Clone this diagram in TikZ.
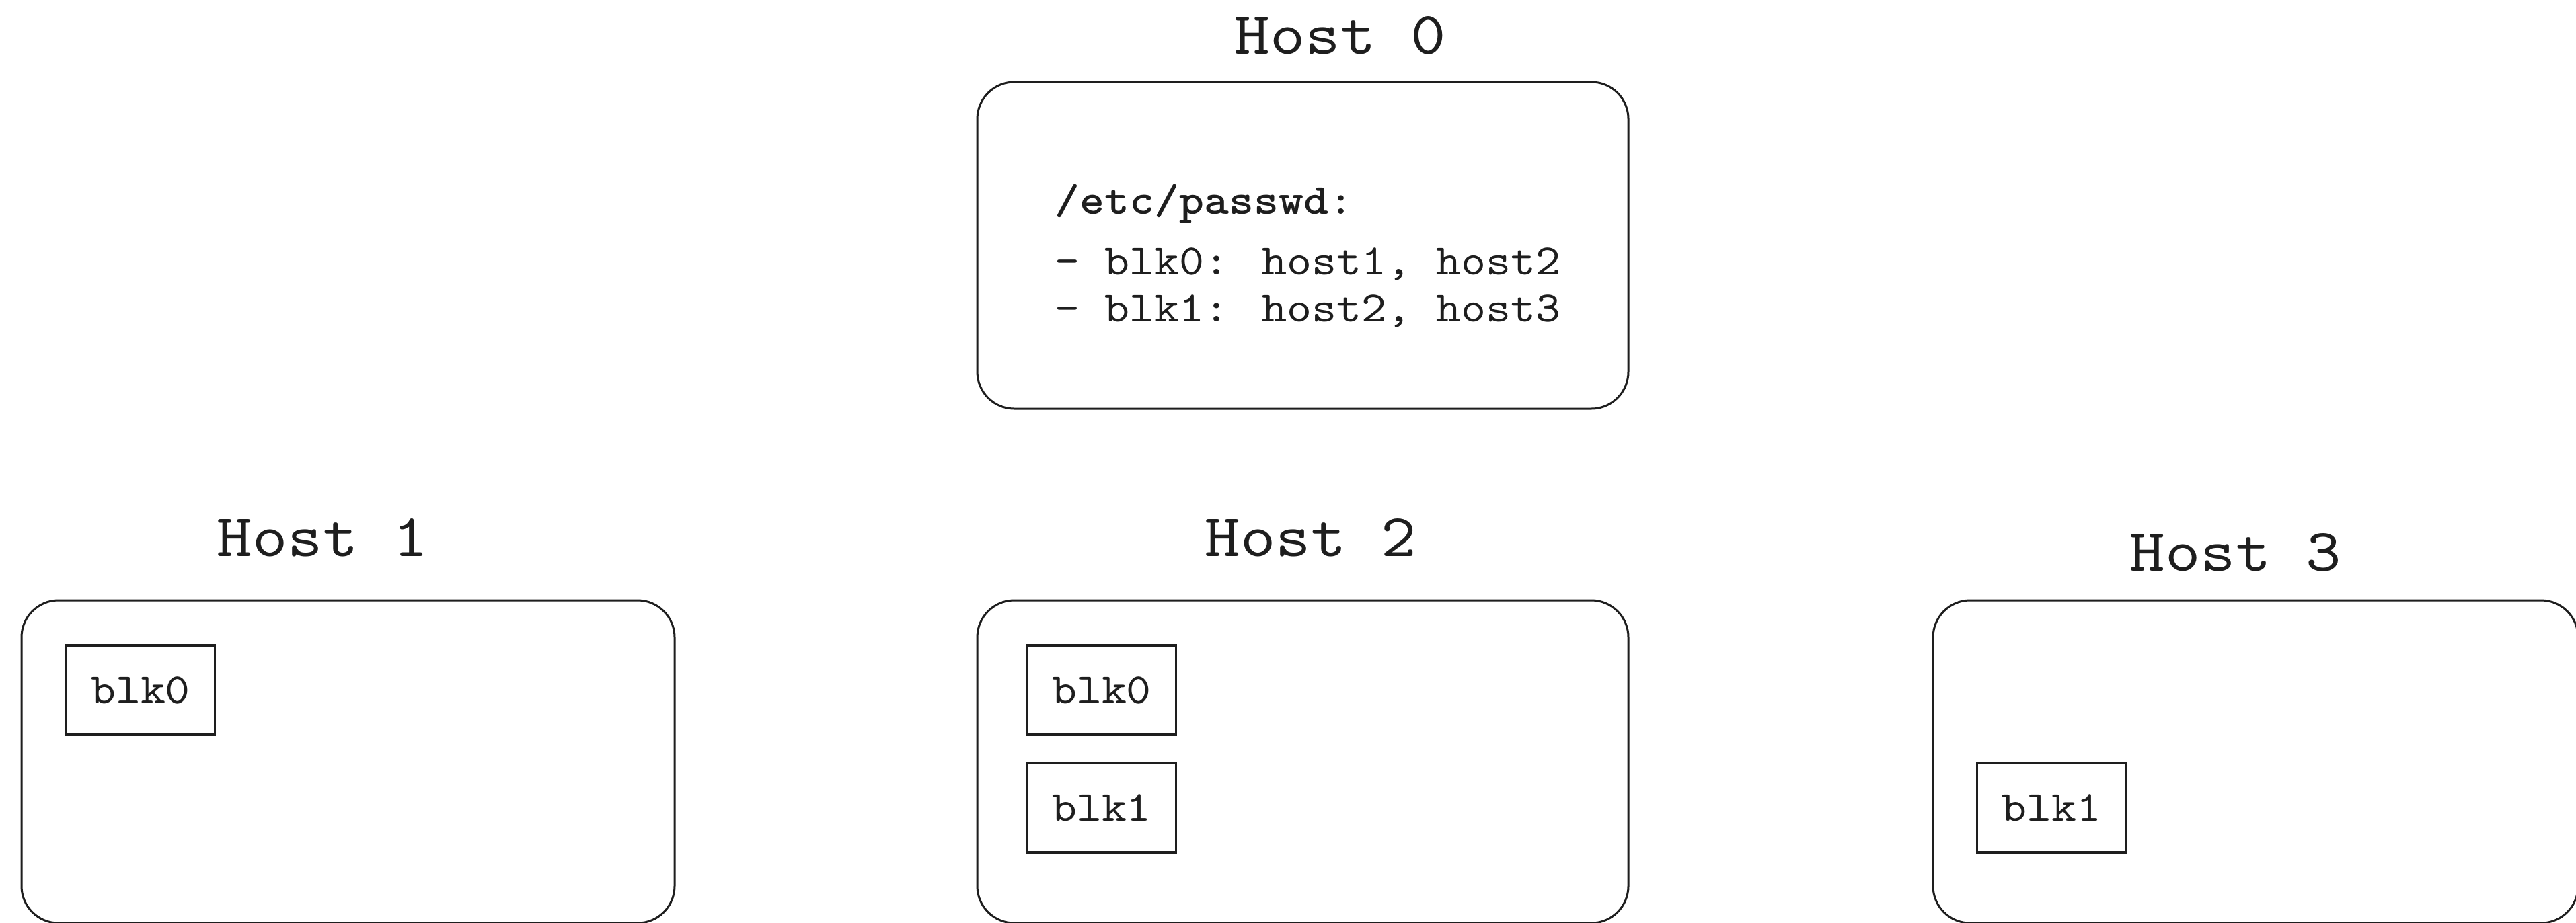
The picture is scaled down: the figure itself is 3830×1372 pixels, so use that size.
\documentclass[tikz,border=0pt]{standalone}
\usepackage{fontspec}
\usetikzlibrary{fit}
\definecolor{ink}{HTML}{1E1E1E}
% typewriter faces, widened to a Courier-like pitch
\newfontfamily\titlett{lmmono10-regular.otf}[FakeStretch=1.11]
\newfontfamily\entrytt{lmmono10-regular.otf}[FakeStretch=1.10, BoldFont=lmmonolt10-bold.otf]
\newcommand\hostlabelfont{\titlett\fontsize{22.5pt}{27pt}\selectfont}
\newcommand\entryfont{\entrytt\fontsize{16pt}{19pt}\selectfont}
\begin{document}
\begin{tikzpicture}[x=0.25pt,y=-0.25pt,
  hostbox/.style={draw=ink, line width=0.75pt, rounded corners=13.75pt, inner sep=0pt},
  blkbox/.style={draw=ink, line width=0.85pt, minimum width=55.25pt, minimum height=33.25pt,
                 inner sep=0pt, font=\entryfont, text=ink},
  hostlabel/.style={anchor=base, inner sep=0pt, font=\hostlabelfont, text=ink},
  listline/.style={anchor=base west, inner sep=0pt, font=\entryfont, text=ink}]

  % canvas
  \fill[white] (0,0) rectangle (3830,1372);
  \useasboundingbox (0,0) rectangle (3830,1372);

  % host boxes
  \node[hostbox, fit={(1453,122) (2421,608)}]  (h0) {};
  \node[hostbox, fit={(32,893) (1003,1373)}]   (h1) {};
  \node[hostbox, fit={(1453,893) (2421,1373)}] (h2) {};
  \node[hostbox, fit={(2874,893) (3833,1373)}] (h3) {};

  % host titles
  \node[hostlabel] (t0) at (1993,80)  {Host 0};
  \node[hostlabel] (t1) at (480,827)  {Host 1};
  \node[hostlabel] (t2) at (1949,827) {Host 2};
  \node[hostlabel] (t3) at (3324,849) {Host 3};

  % block table on host 0
  \node[listline] (p0) at (1568,318) {\textbf{/etc/passwd}:};
  \node[listline] (p1) at (1568,408) {- blk0: host1, host2};
  \node[listline] (p2) at (1568,478) {- blk1: host2, host3};

  % stored blocks
  \node[blkbox] (h1b0) at (209,1026.5)  {blk0};
  \node[blkbox] (h2b0) at (1638,1026.5) {blk0};
  \node[blkbox] (h2b1) at (1638,1201.5) {blk1};
  \node[blkbox] (h3b1) at (3050,1201.5) {blk1};
\end{tikzpicture}
\end{document}
